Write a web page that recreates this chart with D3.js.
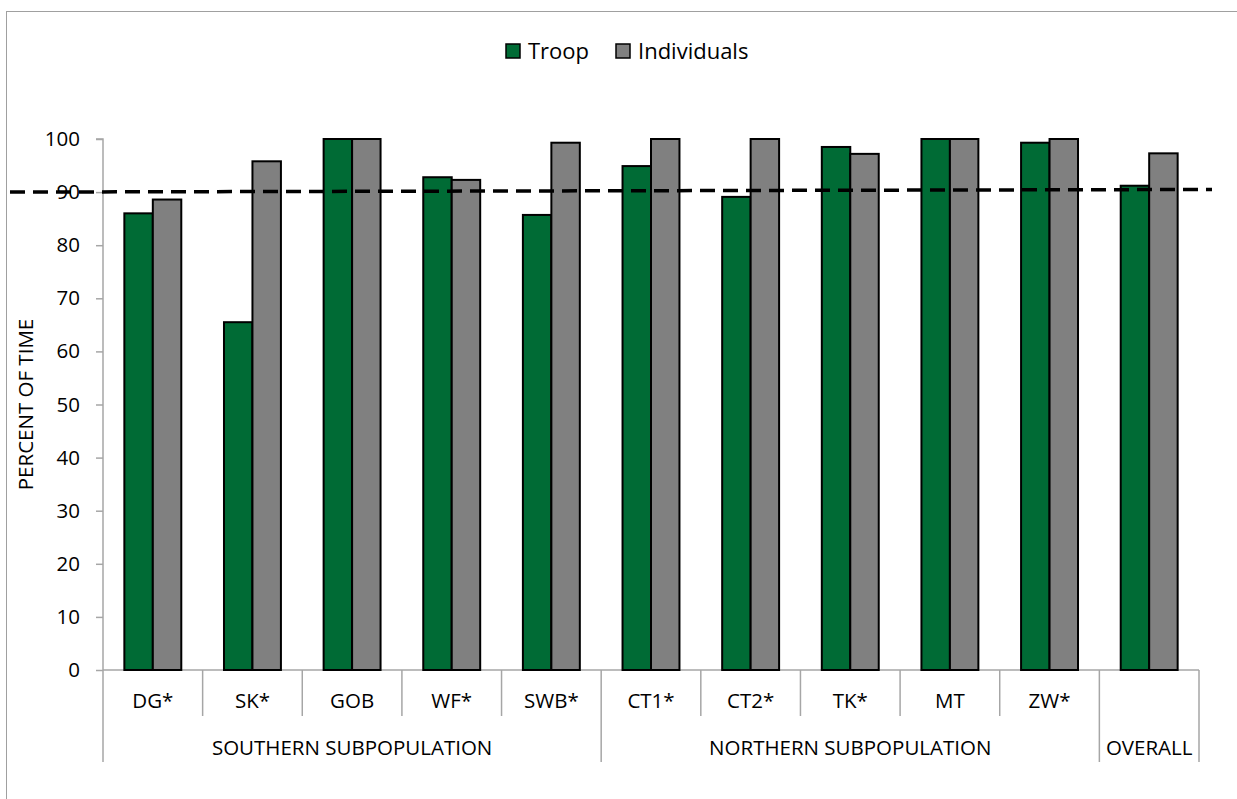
<!DOCTYPE html>
<html>
<head>
<meta charset="utf-8">
<script src="https://cdn.jsdelivr.net/npm/d3@7"></script>
<style>
  html, body { margin: 0; padding: 0; background: #ffffff; }
  svg { display: block; font-family: "Open Sans", "Noto Sans", sans-serif; }
</style>
</head>
<body>
<svg id="chart" width="1237" height="799"></svg>
<script>
// Sites and their subpopulation groups
const categories = ["DG*", "SK*", "GOB", "WF*", "SWB*", "CT1*", "CT2*", "TK*", "MT", "ZW*", "OVERALL"];
const categoryLabels = ["DG*", "SK*", "GOB", "WF*", "SWB*", "CT1*", "CT2*", "TK*", "MT", "ZW*", ""];
const groupNames = ["SOUTHERN SUBPOPULATION", "NORTHERN SUBPOPULATION", "OVERALL"];
const groupSizes = [5, 5, 1];

// Percent of time, per site
const seriesNames = ["Troop", "Individuals"];
const troopValues = [86.0, 65.5, 100, 92.8, 85.7, 94.9, 89.1, 98.5, 100, 99.3, 91.2];
const individualValues = [88.6, 95.8, 100, 92.3, 99.3, 100, 100, 97.2, 100, 100, 97.3];
const seriesColors = ["#006b35", "#808080"];

// Dashed reference line (start and end values)
const referenceLine = [90.0, 90.5];

const yTicks = [0, 10, 20, 30, 40, 50, 60, 70, 80, 90, 100];
const yTitle = "PERCENT OF TIME";

// Layout
const plot = { left: 103, right: 1199, top: 139, bottom: 670 };
const axisGray = "#a6a6a6";

const svg = d3.select("#chart");

// Outer frame
svg.append("rect")
  .attr("x", 6.5).attr("y", 11.5)
  .attr("width", 1260).attr("height", 820)
  .attr("fill", "none").attr("stroke", "#a0a0a0").attr("stroke-width", 1);

const x0 = d3.scaleBand().domain(categories).range([plot.left, plot.right]).padding(0);
const x1 = d3.scaleBand().domain(seriesNames).range([0, x0.bandwidth()])
  .paddingInner(0).paddingOuter(0.75);
const y = d3.scaleLinear().domain([0, 100]).range([plot.bottom, plot.top]);

const rows = categories.map((c, i) => ({
  cat: c,
  values: [
    { s: seriesNames[0], v: troopValues[i] },
    { s: seriesNames[1], v: individualValues[i] }
  ]
}));

// Y axis
const yAxis = svg.append("g")
  .attr("transform", `translate(${plot.left},0)`)
  .call(d3.axisLeft(y).tickValues(yTicks).tickSize(7).tickPadding(16));
yAxis.select(".domain").attr("stroke", axisGray).attr("stroke-width", 1.5)
  .attr("d", `M-7,${plot.top}H0V${plot.bottom}`);
yAxis.selectAll(".tick line").attr("stroke", axisGray).attr("stroke-width", 1.5);
yAxis.selectAll(".tick text")
  .attr("font-size", 20.5).attr("fill", "#000")
  .attr("font-family", "'Open Sans', sans-serif");

// Y title
svg.append("text")
  .attr("transform", `translate(33,${(plot.top + plot.bottom) / 2}) rotate(-90)`)
  .attr("text-anchor", "middle")
  .attr("font-size", 20.5)
  .attr("fill", "#000")
  .text(yTitle);

// Category axis: baseline, separators and labels
const catTickLen = 46;
const groupTickLen = 92;
svg.append("line")
  .attr("x1", plot.left).attr("x2", plot.right)
  .attr("y1", plot.bottom).attr("y2", plot.bottom)
  .attr("stroke", axisGray).attr("stroke-width", 1.5);

const groupEdges = [0];
groupSizes.forEach((n, i) => groupEdges.push(groupEdges[i] + n));

const boundaries = d3.range(categories.length + 1);
svg.append("g").selectAll("line")
  .data(boundaries)
  .join("line")
  .attr("x1", i => i < categories.length ? x0(categories[i]) : plot.right)
  .attr("x2", i => i < categories.length ? x0(categories[i]) : plot.right)
  .attr("y1", plot.bottom)
  .attr("y2", i => plot.bottom + (groupEdges.includes(i) ? groupTickLen : catTickLen))
  .attr("stroke", axisGray).attr("stroke-width", 1.5);

svg.append("g").selectAll("text")
  .data(categories)
  .join("text")
  .attr("x", d => x0(d) + x0.bandwidth() / 2)
  .attr("y", plot.bottom + 38)
  .attr("text-anchor", "middle")
  .attr("font-size", 20.5)
  .attr("fill", "#000")
  .text((d, i) => categoryLabels[i]);

svg.append("g").selectAll("text")
  .data(groupNames)
  .join("text")
  .attr("x", (d, i) => {
    const a = x0(categories[groupEdges[i]]);
    const b = groupEdges[i + 1] < categories.length ? x0(categories[groupEdges[i + 1]]) : plot.right;
    return (a + b) / 2;
  })
  .attr("y", plot.bottom + 85)
  .attr("text-anchor", "middle")
  .attr("font-size", 20.5)
  .attr("fill", "#000")
  .text(d => d);

// Bars
svg.append("g").selectAll("g")
  .data(rows)
  .join("g")
  .attr("transform", d => `translate(${x0(d.cat)},0)`)
  .selectAll("rect")
  .data(d => d.values)
  .join("rect")
  .attr("x", d => x1(d.s))
  .attr("y", d => y(d.v))
  .attr("width", x1.bandwidth())
  .attr("height", d => y(0) - y(d.v))
  .attr("fill", (d, i) => seriesColors[i])
  .attr("stroke", "#000")
  .attr("stroke-width", 2);

// Dashed reference line
svg.append("line")
  .attr("x1", 10).attr("x2", 1212)
  .attr("y1", y(referenceLine[0])).attr("y2", y(referenceLine[1]))
  .attr("stroke", "#000")
  .attr("stroke-width", 3.5)
  .attr("stroke-dasharray", "15,8");

// Legend
const legend = svg.append("g").attr("transform", "translate(506,44)");
const legendItems = legend.selectAll("g")
  .data(seriesNames)
  .join("g")
  .attr("transform", (d, i) => `translate(${i * 110},0)`);
legendItems.append("rect")
  .attr("width", 14).attr("height", 14)
  .attr("fill", (d, i) => seriesColors[i])
  .attr("stroke", "#000").attr("stroke-width", 1.5);
legendItems.append("text")
  .attr("x", 22).attr("y", 15)
  .attr("font-size", 22)
  .attr("fill", "#000")
  .text(d => d);
</script>
</body>
</html>
